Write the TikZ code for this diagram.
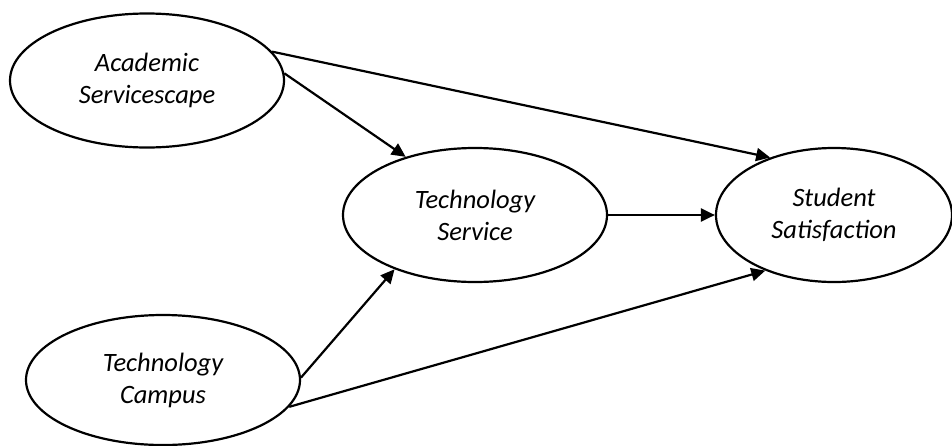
\documentclass[tikz,border=0pt]{standalone}
\usepackage{fontspec}
\setmainfont{Carlito}
\usetikzlibrary{shapes.geometric,arrows.meta}
\tikzset{
  construct/.style={draw=black, line width=2.2pt, ellipse, inner sep=0pt, align=center,
    font=\fontsize{26.5}{32}\selectfont\itshape},
  link/.style={line width=2.2pt, -{Triangle[length=14pt,width=13pt]}}
}
\begin{document}
\begin{tikzpicture}[x=1pt,y=-1pt]
\useasboundingbox (0,0) rectangle (952,445);
\node[construct, minimum width=274pt, minimum height=134pt] (as) at (147,80.5) {Academic\\Servicescape};
\node[construct, minimum width=264pt, minimum height=134pt] (ts) at (475,215) {Technology\\Service};
\node[construct, minimum width=236pt, minimum height=134pt] (ss) at (834,215) {Student\\Satisfaction};
\node[construct, minimum width=274pt, minimum height=130pt] (tc) at (163,380) {Technology\\Campus};
\draw[link] (as.13) -- (ss.138);
\draw[link] (as.3) -- (ts.140);
\draw[link] (ts.east) -- (ss.west);
\draw[link] (tc.1) -- (ts.214);
\draw[link] (tc.-12) -- (ss.219);
\end{tikzpicture}
\end{document}
